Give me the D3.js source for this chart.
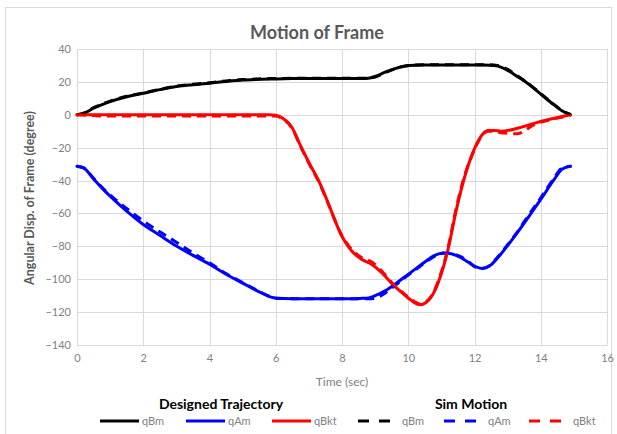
<!DOCTYPE html>
<html><head><meta charset="utf-8">
<script src="https://cdn.jsdelivr.net/npm/d3@7"></script>
<style>body{margin:0;background:#fff}svg{display:block}text{font-family:Lato,"Open Sans",sans-serif}</style>
</head><body><svg id="c" width="617" height="434"></svg>
<script>
// Designed trajectory
const tDes  = [0,0.2,0.5,0.8,1,1.5,2,2.5,3,3.5,4,4.5,5,5.5,5.83,6.03,6.5,7,7.5,8,8.3,8.6,8.8,9.0,9.3,9.6,9.9,10.2,10.5,10.8,11.05,11.3,11.55,11.8,12.05,12.25,12.45,12.7,13.0,13.3,13.6,14.0,14.4,14.65,14.9];
const qBm   = [0,0.8,4,6.5,8,11,13.1,15.3,17.2,18.3,19.2,20.3,21.2,21.6,21.8,21.8,22,22,22,22,22,22,22.2,23.3,25.9,28.1,29.6,30.1,30.2,30.2,30.2,30.2,30.2,30.2,30.2,30.2,30.1,29.6,27,23.2,19.2,12.6,6,2.3,0];
const qAm   = [-31.3,-32.3,-39,-45.5,-49.5,-58.6,-66.7,-73.3,-79.8,-85.5,-90.9,-97,-102.4,-107.7,-110.7,-111.5,-111.8,-111.8,-111.8,-111.8,-111.8,-111.6,-111.4,-110,-107,-103,-98.5,-94,-89.5,-85.5,-84,-84.5,-86.5,-89.5,-92.5,-93.5,-92,-87,-79.5,-71.5,-63,-51.5,-39.5,-33,-31.3];
const tBkt  = [0,1,2,3,4,5,5.8,6.0,6.2,6.5,6.73,7.0,7.34,7.54,8.0,8.3,8.6,8.9,9.2,9.5,9.8,10.1,10.35,10.55,10.75,10.96,11.2,11.45,11.7,11.95,12.2,12.4,12.6,12.8,13.3,13.8,14.3,14.9];
const qBkt  = [0,0,0,0,0,0,0,-0.3,-2,-8,-18,-29,-42,-51.5,-74,-83,-88,-91,-96,-102.5,-108,-113,-115.5,-114,-109,-99,-82,-58,-38,-23,-13,-9.5,-9.5,-10,-8.2,-5.2,-2.6,0];
// Sim motion
const qBmSim  = [0,1,4.3,6.8,8.3,11.3,13.3,15.5,17.4,18.6,19.5,20.6,21.4,21.8,22,22,22.2,22.2,22.2,22.2,22.2,22.2,22.2,23,25.5,28,29.6,30.3,30.4,30.4,30.4,30.4,30.4,30.4,30.4,30.4,30.4,30,27.6,23.6,19.4,12.9,6.3,2.4,0.2];
const qAmSim  = [-31.3,-32.3,-38.6,-45,-48.8,-57,-64.5,-71.2,-77.5,-84,-90,-96.6,-102,-107.4,-110.5,-111.5,-111.8,-111.8,-111.8,-111.8,-111.8,-111.8,-111.8,-111.6,-108.5,-103.8,-99,-94.5,-90,-86,-84.2,-84.3,-86,-89,-92.8,-93.4,-91.8,-86.5,-79,-71,-62,-50.5,-38.5,-32.3,-31.3];
const qBktSim = [0,-0.8,-0.8,-0.8,-0.8,-0.8,-0.8,-0.8,-2.3,-8.5,-18.5,-29.5,-42.5,-52,-73.5,-82,-87,-89.5,-95,-102,-107.5,-112.5,-115,-113.5,-108.5,-98,-81,-56.5,-37,-23.5,-13.5,-10,-10,-11,-11.5,-6,-3,-0.3];
const xTicks = [0,2,4,6,8,10,12,14,16];
const yTicks = [40,20,0,-20,-40,-60,-80,-100,-120,-140];
const seriesNames = ["qBm","qAm","qBkt"];
const colors = ["#000000","#0000ff","#ff0000"];

const svg = d3.select("#c");
svg.append("rect").attr("x",5.5).attr("y",7.5).attr("width",606).attr("height",430)
  .attr("fill","#fff").attr("stroke","#d9d9d9").attr("stroke-width",1);

const x = d3.scaleLinear().domain([0,16]).range([77,607]);
const y = d3.scaleLinear().domain([-140,40]).range([345,49]);

// gridlines
const g = svg.append("g");
g.selectAll("line.v").data(xTicks).join("line")
  .attr("x1",d=>Math.round(x(d))+0.5).attr("x2",d=>Math.round(x(d))+0.5)
  .attr("y1",y(40)).attr("y2",y(-140)).attr("stroke","#d9d9d9").attr("stroke-width",1);
g.selectAll("line.h").data(yTicks).join("line")
  .attr("y1",d=>Math.round(y(d))+0.5).attr("y2",d=>Math.round(y(d))+0.5)
  .attr("x1",x(0)).attr("x2",x(16)).attr("stroke","#d9d9d9").attr("stroke-width",1);

// axes
const xAx = svg.append("g").attr("transform",`translate(0,${y(-140)})`)
  .call(d3.axisBottom(x).tickValues(xTicks).tickSize(0).tickPadding(9));
xAx.select(".domain").attr("stroke","#d9d9d9");
xAx.selectAll("text").attr("fill","#7f7f7f").style("font-size","11px");
const yAx = svg.append("g").attr("transform",`translate(${x(0)},0)`)
  .call(d3.axisLeft(y).tickValues(yTicks).tickSize(0).tickPadding(6));
yAx.select(".domain").remove();
yAx.selectAll("text").attr("fill","#7f7f7f").style("font-size","11px");

// lines
const line = d3.line().x(d=>x(d[0])).y(d=>y(d[1])).curve(d3.curveMonotoneX);
const des = [d3.zip(tDes,qBm), d3.zip(tDes,qAm), d3.zip(tBkt,qBkt)];
const sim = [d3.zip(tDes,qBmSim), d3.zip(tDes,qAmSim), d3.zip(tBkt,qBktSim)];
des.forEach((d,i)=>svg.append("path").attr("d",line(d)).attr("fill","none")
  .attr("stroke",colors[i]).attr("stroke-width",3).attr("stroke-linejoin","round").attr("stroke-linecap","round"));
sim.forEach((d,i)=>svg.append("path").attr("d",line(d)).attr("fill","none")
  .attr("stroke",colors[i]).attr("stroke-width",3).attr("stroke-dasharray","9,6"));

// title and axis labels
svg.append("text").attr("x",317).attr("y",39).attr("text-anchor","middle")
  .attr("fill","#595959").style("font-size","18px").style("font-weight","bold").text("Motion of Frame");
svg.append("text").attr("transform","translate(34,198) rotate(-90)").attr("text-anchor","middle")
  .attr("fill","#595959").style("font-size","12.5px").style("font-weight","bold").text("Angular Disp. of Frame (degree)");
svg.append("text").attr("x",342).attr("y",386).attr("text-anchor","middle")
  .attr("fill","#7f7f7f").style("font-size","12px").text("Time (sec)");

// legend
svg.append("text").attr("x",221).attr("y",409).attr("text-anchor","middle")
  .attr("fill","#000").style("font-size","14px").style("font-weight","bold").text("Designed Trajectory");
svg.append("text").attr("x",471).attr("y",409).attr("text-anchor","middle")
  .attr("fill","#000").style("font-size","14px").style("font-weight","bold").text("Sim Motion");
const legX = [100,186,272,358,444,529];
const lg = svg.append("g");
legX.forEach((lx,k)=>{
  const i = k%3, dashed = k>=3;
  lg.append("line").attr("x1",lx).attr("x2",lx+(dashed?33:39)).attr("y1",421).attr("y2",421)
    .attr("stroke",colors[i]).attr("stroke-width",3).attr("stroke-dasharray",dashed?"11,10":null);
  lg.append("text").attr("x",lx+(dashed?44:42)).attr("y",425).attr("fill","#7f7f7f")
    .style("font-size","11px").text(seriesNames[i]);
});
</script></body></html>
